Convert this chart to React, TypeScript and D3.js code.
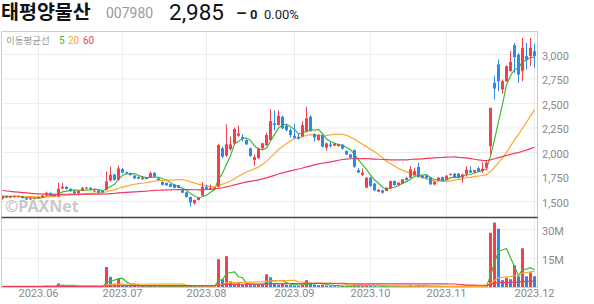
import React from 'react';
import * as d3 from 'd3';

// ---- data (prices in KRW, volumes in millions of shares) ----
const priorCloses = [
  1820, 1810, 1800, 1790, 1780, 1760, 1740, 1720, 1700, 1680,
  1660, 1640, 1620, 1610, 1600, 1590, 1600, 1610, 1620, 1600,
  1590, 1580, 1590, 1600, 1610, 1600, 1590, 1580, 1570, 1580,
  1600, 1620, 1610, 1600, 1590, 1580, 1570, 1580, 1590, 1580,
  1580, 1575, 1570, 1565, 1560, 1555, 1560, 1565, 1560, 1555,
  1550, 1545, 1550, 1555, 1560, 1555, 1550, 1545, 1550,
];
const priorVolumes = [
  0.7, 0.6, 0.8, 0.6, 0.5, 0.7, 0.6, 0.5, 0.6, 0.7,
  0.6, 0.5, 0.6, 0.7, 0.6, 0.5, 0.6, 0.5, 0.7, 0.6,
  0.5, 0.6, 0.5, 0.6, 0.7, 0.6, 0.5, 0.6, 0.5, 0.6,
  0.6, 0.5, 0.6, 0.7, 0.5, 0.6, 0.5, 0.6, 0.5, 0.6,
  0.5, 0.6, 0.5, 0.4, 0.6, 0.5, 0.6, 0.5, 0.4, 0.5,
  0.6, 0.5, 0.4, 0.5, 0.6, 0.5, 0.4, 0.5, 0.5,
];

const opens = [
  1528, 1555, 1540, 1545, 1547, 1552, 1535, 1522, 1528, 1535,
  1542, 1562, 1588, 1565, 1556, 1632, 1650, 1630, 1605, 1583,
  1615, 1632, 1640, 1605, 1612, 1608, 1620, 1715, 1775, 1722,
  1830, 1800, 1787, 1765, 1750, 1727, 1745, 1750, 1792, 1735,
  1700, 1690, 1677, 1672, 1665, 1627, 1593, 1546, 1481, 1515,
  1560, 1650, 1630, 1628, 1651, 2042, 1967, 2035, 2093, 2171,
  2160, 2127, 2042, 1923, 1943, 2042, 2076, 2127, 2297, 2280,
  2365, 2273, 2229, 2171, 2160, 2164, 2212, 2365, 2188, 2127,
  2178, 2049, 2080, 2070, 2065, 2080, 2015, 1980, 2025, 1820,
  1771, 1641, 1743, 1682, 1600, 1614, 1607, 1634, 1709, 1668,
  1682, 1740, 1743, 1765, 1852, 1760, 1760, 1743, 1675, 1716,
  1748, 1719, 1770, 1784, 1785, 1745, 1780, 1818, 1800, 1840,
  1810, 1845, 2066, 2711, 2898, 2643, 2728, 2830, 3095, 2999,
  2830, 2983, 2983, 3034,
];
const highs = [
  1560, 1560, 1558, 1560, 1562, 1555, 1540, 1536, 1542, 1550,
  1565, 1600, 1592, 1570, 1692, 1688, 1655, 1635, 1610, 1615,
  1648, 1650, 1645, 1618, 1615, 1612, 1804, 1855, 1780, 1866,
  1845, 1805, 1795, 1770, 1755, 1750, 1750, 1805, 1800, 1742,
  1705, 1695, 1680, 1678, 1670, 1632, 1598, 1550, 1520, 1545,
  1695, 1672, 1672, 1645, 2090, 2060, 2287, 2160, 2256, 2273,
  2185, 2135, 2050, 1980, 2050, 2100, 2200, 2443, 2432, 2430,
  2375, 2290, 2246, 2290, 2195, 2320, 2466, 2380, 2195, 2185,
  2185, 2100, 2110, 2095, 2090, 2085, 2020, 1985, 2030, 1840,
  1838, 1750, 1750, 1690, 1625, 1620, 1645, 1712, 1715, 1695,
  1730, 1750, 1862, 1845, 1895, 1770, 1775, 1750, 1705, 1748,
  1755, 1770, 1785, 1790, 1790, 1785, 1860, 1858, 1825, 1855,
  1900, 1918, 2456, 2779, 2949, 2745, 2890, 3034, 3118, 3015,
  3170, 3118, 3170, 3108,
];
const lows = [
  1520, 1535, 1535, 1540, 1542, 1530, 1515, 1515, 1522, 1530,
  1538, 1555, 1555, 1552, 1550, 1625, 1622, 1600, 1575, 1578,
  1610, 1625, 1618, 1598, 1582, 1585, 1615, 1705, 1712, 1715,
  1785, 1780, 1765, 1730, 1728, 1722, 1725, 1745, 1748, 1715,
  1665, 1660, 1645, 1635, 1635, 1585, 1540, 1447, 1470, 1510,
  1555, 1618, 1625, 1622, 1645, 1940, 1955, 2020, 2080, 2160,
  2110, 2075, 1955, 1865, 1935, 2035, 2070, 2120, 2229, 2275,
  2240, 2215, 2154, 2140, 2130, 2160, 2205, 2210, 2110, 2120,
  2050, 2020, 2050, 2065, 2060, 2030, 1975, 1940, 1845, 1790,
  1760, 1635, 1650, 1605, 1595, 1580, 1610, 1630, 1660, 1662,
  1678, 1715, 1740, 1790, 1745, 1735, 1725, 1670, 1665, 1710,
  1705, 1715, 1765, 1738, 1735, 1692, 1755, 1790, 1790, 1800,
  1790, 1828, 1981, 2541, 2626, 2600, 2720, 2825, 2813, 2711,
  2728, 2847, 2881, 2864,
];
const closes = [
  1555, 1540, 1553, 1556, 1555, 1535, 1522, 1532, 1538, 1545,
  1560, 1588, 1562, 1558, 1630, 1650, 1628, 1605, 1580, 1610,
  1640, 1643, 1624, 1612, 1588, 1592, 1705, 1772, 1722, 1838,
  1795, 1787, 1770, 1736, 1733, 1745, 1730, 1790, 1753, 1720,
  1670, 1665, 1650, 1640, 1640, 1590, 1546, 1491, 1515, 1539,
  1651, 1630, 1640, 1640, 2076, 1957, 2083, 2083, 2239, 2195,
  2137, 2083, 1964, 1953, 2042, 2093, 2178, 2320, 2280, 2375,
  2246, 2229, 2178, 2150, 2143, 2280, 2348, 2219, 2154, 2178,
  2059, 2093, 2065, 2090, 2085, 2040, 1980, 1947, 1855, 1797,
  1795, 1743, 1658, 1614, 1620, 1590, 1641, 1709, 1668, 1692,
  1726, 1720, 1828, 1810, 1750, 1742, 1740, 1675, 1702, 1743,
  1712, 1763, 1782, 1743, 1740, 1775, 1825, 1794, 1820, 1808,
  1835, 1896, 2456, 2653, 2728, 2728, 2881, 2925, 2973, 2796,
  3068, 2949, 3068, 2985,
];
const volumes = [
  0.6, 0.4, 0.5, 0.5, 0.4, 0.5, 0.6, 0.4, 0.4, 0.5,
  0.6, 0.9, 0.7, 0.5, 2.1, 1.4, 0.8, 0.6, 0.5, 0.6,
  0.7, 0.6, 0.4, 0.5, 0.4, 0.5, 10.6, 5.5, 2.0, 4.4,
  1.5, 1.0, 0.8, 0.9, 0.7, 0.8, 0.6, 1.1, 0.8, 0.6,
  0.7, 0.6, 0.7, 0.6, 0.7, 0.8, 0.9, 1.2, 0.8, 0.6,
  1.0, 0.5, 0.6, 0.5, 14.6, 4.3, 16.2, 3.2, 2.0, 2.2,
  1.5, 1.8, 1.5, 1.2, 1.8, 1.5, 6.8, 5.3, 2.3, 1.5,
  2.0, 1.5, 1.2, 1.0, 0.8, 1.5, 3.8, 2.5, 1.5, 1.2,
  1.5, 1.0, 0.8, 0.7, 0.6, 0.8, 0.7, 0.8, 1.5, 0.8,
  0.9, 1.2, 0.8, 0.7, 0.5, 0.6, 0.5, 0.7, 0.5, 0.4,
  0.6, 0.5, 1.2, 0.7, 1.0, 0.6, 0.5, 0.6, 0.5, 0.6,
  0.4, 0.5, 0.4, 0.5, 0.4, 0.8, 0.9, 0.5, 0.4, 0.5,
  0.6, 0.9, 28.3, 33.6, 30.4, 3.8, 5.0, 4.3, 11.5, 5.8,
  20.3, 5.8, 7.8, 5.8,
];

const monthTickIndex = [9, 30, 51, 73, 92, 111, 133];
const monthTickLabels = ['2023.06', '2023.07', '2023.08', '2023.09', '2023.10', '2023.11', '2023.12'];
const priceTicks = [1500, 1750, 2000, 2250, 2500, 2750, 3000];
const volumeTicks = [15, 30];
const volumeTickLabels = ['15M', '30M'];
const maPeriods = [5, 20, 60];

// ---- styling ----
const UP = '#f2404c';
const DOWN = '#2d89e6';
const MA_COLORS = ['#3cbb34', '#ffa62b', '#f23a5e'];
const GRID = '#ededed';
const AXIS_TEXT = '#8a8a8a';

const W = 594;
const H = 304;
const PLOT_L = 2;
const PLOT_R = 537.5;
const PRICE_TOP = 31;
const PRICE_BOTTOM = 217;
const VOL_TOP = 218;
const VOL_BOTTOM = 287.5;

function movingAverage(prior: number[], values: number[], n: number): number[] {
  const all = prior.concat(values);
  const off = prior.length;
  return values.map((_, i) => {
    const k = i + off;
    const start = Math.max(0, k - n + 1);
    return d3.mean(all.slice(start, k + 1)) as number;
  });
}

export default function App() {
  const n = closes.length;
  const x = d3.scaleLinear().domain([0, n - 1]).range([2.5, 2.5 + 4 * (n - 1)]);
  const yP = d3.scaleLinear().domain([1500, 3000]).range([201.5, 54.5]);
  const yV = d3.scaleLinear().domain([0, 30]).range([VOL_BOTTOM, 229.5]);

  const priceMAs = maPeriods.map((p) => movingAverage(priorCloses, closes, p));
  const volMAs = maPeriods.map((p) => movingAverage(priorVolumes, volumes, p));

  const priceLine = d3
    .line<number>()
    .x((_, i) => x(i))
    .y((d) => yP(d));
  const volLine = d3
    .line<number>()
    .x((_, i) => x(i))
    .y((d) => yV(d));

  const idx = d3.range(n);

  return (
    <div style={{ position: 'fixed', left: 0, top: 0, width: W, height: H, background: '#fff' }}>
      <svg width={W} height={H} style={{ display: 'block' }}>
        <defs>
          <clipPath id="clipPrice">
            <rect x={PLOT_L} y={PRICE_TOP} width={PLOT_R - PLOT_L} height={PRICE_BOTTOM - PRICE_TOP} />
          </clipPath>
          <clipPath id="clipVol">
            <rect x={PLOT_L} y={VOL_TOP} width={PLOT_R - PLOT_L} height={VOL_BOTTOM - VOL_TOP} />
          </clipPath>
        </defs>

        {/* header */}
        <text x={1} y={19} fontFamily="'Noto Sans CJK KR', sans-serif" fontWeight={700} fontSize={19.5} fill="#111">
          태평양물산
        </text>
        <text x={106} y={17.5} fontFamily="Roboto, 'Noto Sans', sans-serif" fontSize={14} fill="#9a9a9a">
          007980
        </text>
        <text x={169} y={20} fontFamily="Roboto, 'Noto Sans', sans-serif" fontSize={22.5} fill="#111">
          2,985
        </text>
        <text x={236} y={18.5} fontFamily="Roboto, 'Noto Sans', sans-serif" fontWeight={700} fontSize={17} fill="#222">
          –
        </text>
        <text x={250} y={18.5} fontFamily="Roboto, 'Noto Sans', sans-serif" fontWeight={700} fontSize={13} fill="#222">
          0
        </text>
        <text x={264} y={18.5} fontFamily="Roboto, 'Noto Sans', sans-serif" fontSize={13} fill="#222">
          0.00%
        </text>

        {/* grid */}
        {priceTicks.map((t) => (
          <line key={'pg' + t} x1={PLOT_L} x2={PLOT_R} y1={yP(t)} y2={yP(t)} stroke={GRID} />
        ))}
        {volumeTicks.map((t) => (
          <line key={'vg' + t} x1={PLOT_L} x2={PLOT_R} y1={yV(t)} y2={yV(t)} stroke={GRID} />
        ))}
        {monthTickIndex.map((m) => (
          <line key={'mg' + m} x1={x(m)} x2={x(m)} y1={PRICE_TOP} y2={VOL_BOTTOM} stroke={GRID} />
        ))}

        {/* watermark */}
        <text x={5} y={212} fontFamily="'Noto Sans', 'DejaVu Sans', sans-serif" fontWeight={700} fontSize={16}
          fill="#b8b8b8" opacity={0.75}>
          ©PAXNet
        </text>

        {/* price panel */}
        <g clipPath="url(#clipPrice)">
          {priceMAs.map((ma, k) => (
            <path key={'pma' + k} d={priceLine(ma) || ''} fill="none" stroke={MA_COLORS[k]} strokeWidth={1.2} />
          ))}
          {idx.map((i) => {
            const up = closes[i] >= opens[i];
            const c = up ? UP : DOWN;
            const yTop = yP(Math.max(opens[i], closes[i]));
            const yBot = yP(Math.min(opens[i], closes[i]));
            return (
              <g key={'c' + i}>
                <line x1={x(i)} x2={x(i)} y1={yP(highs[i])} y2={yP(lows[i])} stroke={c} strokeWidth={1} />
                <rect x={x(i) - 1.5} y={yTop} width={3} height={Math.max(1, yBot - yTop)} fill={c} />
              </g>
            );
          })}
        </g>

        {/* volume panel */}
        <g clipPath="url(#clipVol)">
          {idx.map((i) => {
            const prev = i === 0 ? priorVolumes[priorVolumes.length - 1] : volumes[i - 1];
            const c = volumes[i] >= prev ? UP : DOWN;
            const yv = yV(volumes[i]);
            return <rect key={'v' + i} x={x(i) - 1.5} y={yv} width={3} height={Math.max(0.5, yV(0) - yv)} fill={c} />;
          })}
          {volMAs.map((ma, k) => (
            <path key={'vma' + k} d={volLine(ma) || ''} fill="none" stroke={MA_COLORS[k]} strokeWidth={1.2} />
          ))}
        </g>

        {/* frame */}
        <line x1={1.5} x2={1.5} y1={PRICE_TOP} y2={VOL_BOTTOM} stroke="#cfcfcf" />
        <line x1={1.5} x2={PLOT_R} y1={31.5} y2={31.5} stroke="#cfcfcf" />
        <line x1={PLOT_R} x2={PLOT_R} y1={PRICE_TOP} y2={VOL_BOTTOM} stroke="#c8c8c8" />
        <line x1={1.5} x2={PLOT_R} y1={VOL_BOTTOM} y2={VOL_BOTTOM} stroke="#cfcfcf" />
        <line x1={1.5} x2={PLOT_R} y1={217.5} y2={217.5} stroke="#444" strokeWidth={1.3} />

        {/* legend */}
        <text x={6} y={44} fontFamily="'Noto Sans CJK KR', sans-serif" fontSize={9.5} fill="#999">
          이동평균선
        </text>
        {maPeriods.map((p, k) => (
          <text key={'lg' + p} x={[59, 68, 83][k]} y={44} fontFamily="Roboto, 'Noto Sans', sans-serif" fontSize={10}
            fill={MA_COLORS[k]}>
            {p}
          </text>
        ))}

        {/* y axis labels */}
        {priceTicks.map((t) => (
          <text key={'pl' + t} x={542} y={yP(t) + 5} fontFamily="Roboto, 'Noto Sans', sans-serif" fontSize={11}
            fill={AXIS_TEXT}>
            {d3.format(',')(t)}
          </text>
        ))}
        {volumeTicks.map((t, k) => (
          <text key={'vl' + t} x={542} y={yV(t) + 5} fontFamily="Roboto, 'Noto Sans', sans-serif" fontSize={11}
            fill={AXIS_TEXT}>
            {volumeTickLabels[k]}
          </text>
        ))}

        {/* x axis labels */}
        {monthTickIndex.map((m, k) => (
          <text key={'xl' + m} x={x(m)} y={297} textAnchor="middle" fontFamily="Roboto, 'Noto Sans', sans-serif"
            fontSize={11} fill={AXIS_TEXT}>
            {monthTickLabels[k]}
          </text>
        ))}
      </svg>
    </div>
  );
}
